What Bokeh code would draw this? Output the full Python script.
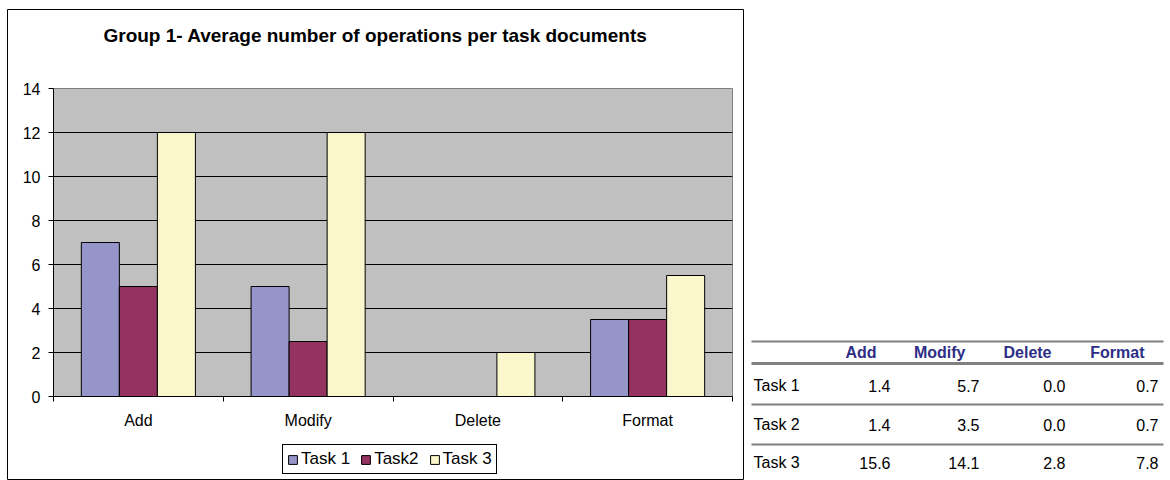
from bokeh.plotting import figure
from bokeh.models import (ColumnDataSource, FixedTicker, Legend, LegendItem, Range1d)
from bokeh.embed import file_html
from bokeh.resources import INLINE
from bokeh.core.properties import value

# ---------------- data ----------------
categories = ["Add", "Modify", "Delete", "Format"]
series_names = ["Task 1", "Task2", "Task 3"]
task1 = [7, 5, 0, 3.5]
task2 = [5, 2.5, 0, 3.5]
task3 = [12, 12, 2, 5.5]
y_ticks = [0, 2, 4, 6, 8, 10, 12, 14]
title_text = "Group 1- Average number of operations per task documents"

table_rows = ["Task 1", "Task 2", "Task 3"]
table_task1 = [1.4, 5.7, 0.0, 0.7]
table_task2 = [1.4, 3.5, 0.0, 0.7]
table_task3 = [15.6, 14.1, 2.8, 7.8]

# ---------------- styles ----------------
FONT = "Liberation Sans"
colors = ["#9595C9", "#943360", "#FAF7CC"]
bar_w = 0.224
offsets = [-bar_w, 0.0, bar_w]
W, H = 1170, 480

# ---------------- chart (bars + axes) ----------------
p = figure(width=750, height=H, output_backend="svg", toolbar_location=None,
           x_range=Range1d(0, len(categories)), y_range=Range1d(0, 14),
           min_border_left=53, min_border_right=18, min_border_top=88,
           min_border_bottom=84, title=None)
p.background_fill_color = "#C0C0C0"
p.border_fill_color = "white"
p.outline_line_color = "#808080"
p.outline_line_width = 1

centers = [i + 0.5 for i in range(len(categories))]
for vals, col, off in zip([task1, task2, task3], colors, offsets):
    src = ColumnDataSource(dict(x=[c + off for c in centers], top=vals))
    p.vbar(x="x", top="top", bottom=0, width=bar_w, source=src,
           fill_color=col, line_color="black", line_width=1)

xa = p.xaxis[0]
xa.ticker = FixedTicker(ticks=centers, minor_ticks=list(range(len(categories) + 1)))
xa.major_label_overrides = {c: name for c, name in zip(centers, categories)}
xa.major_tick_out = 0
xa.major_tick_in = 0
xa.minor_tick_out = 5
xa.minor_tick_in = 0
xa.minor_tick_line_color = "black"
xa.axis_line_color = "black"
xa.major_label_text_font = FONT
xa.major_label_text_font_size = "16px"
xa.major_label_text_color = "black"
xa.major_label_standoff = 10

ya = p.yaxis[0]
ya.ticker = FixedTicker(ticks=y_ticks, minor_ticks=[])
ya.major_tick_out = 5
ya.major_tick_in = 0
ya.major_tick_line_color = "black"
ya.axis_line_color = "black"
ya.major_label_text_font = FONT
ya.major_label_text_font_size = "16px"
ya.major_label_text_color = "black"
ya.major_label_standoff = 8

p.xgrid.visible = False
p.ygrid.ticker = FixedTicker(ticks=y_ticks[1:-1])
p.ygrid.grid_line_color = "black"
p.ygrid.grid_line_width = 1

# ---------------- overlay (title, frame box, legend, table) ----------------
o = figure(width=W, height=H, output_backend="svg", toolbar_location=None,
           x_range=Range1d(0, W), y_range=Range1d(H, 0),
           min_border=0, title=None)
o.styles = {"position": "absolute", "left": "0px", "top": "0px"}
o.axis.visible = False
o.grid.visible = False
o.outline_line_color = None
o.background_fill_color = None
o.border_fill_color = None

# outer chart box
o.quad(left=[7], right=[743], top=[9], bottom=[479], fill_color=None,
       line_color="black", line_width=1)

# title
o.text(x=[375], y=[35], text=[title_text], text_font=value(FONT),
       text_font_size="19px", text_font_style="bold", text_color="black",
       text_align="center", text_baseline="middle")

# legend (proxy renderers placed outside the visible range, same styling as the bars)
proxies = [o.quad(left=[-100], right=[-90], top=[1], bottom=[0], fill_color=c,
                  line_color="black") for c in colors]
legend = Legend(items=[LegendItem(label=n, renderers=[r]) for n, r in zip(series_names, proxies)],
                orientation="horizontal", location=(282, 6))
legend.label_text_font = FONT
legend.label_text_font_size = "17px"
legend.label_text_color = "black"
legend.glyph_width = 11
legend.glyph_height = 11
legend.label_standoff = 3
legend.spacing = 10
legend.padding = 4
legend.margin = 0
legend.label_height = 18
legend.border_line_color = "black"
legend.border_line_alpha = 1.0
legend.border_line_width = 1
legend.background_fill_color = "white"
legend.background_fill_alpha = 1.0
o.add_layout(legend)

# table
TX = 750
line_y = [341, 363, 404, 444]
line_w = [2, 3, 2, 2]
o.segment(x0=[TX + 1] * 4, x1=[TX + 413] * 4, y0=line_y, y1=line_y,
          line_width=line_w, line_color="#808080")

col_right = [TX + 140, TX + 229, TX + 315, TX + 408]
header_y = 352
row_y = [385, 424, 462]

o.text(x=[c - 14 for c in col_right], y=[header_y] * 4, text=categories,
       text_font=value(FONT), text_font_size="16px", text_font_style="bold",
       text_color="#2E2E86", text_align="right", text_baseline="middle")
o.text(x=[TX + 3] * 3, y=row_y, text=table_rows, text_font=value(FONT),
       text_font_size="16px", text_color="black", text_align="left",
       text_baseline="middle")
for vals, yy in zip([table_task1, table_task2, table_task3], row_y):
    o.text(x=col_right, y=[yy] * 4, text=[f"{v:.1f}" for v in vals],
           text_font=value(FONT), text_font_size="16px", text_color="black",
           text_align="right", text_baseline="middle")

open("out.html", "w").write(file_html([p, o], INLINE))
